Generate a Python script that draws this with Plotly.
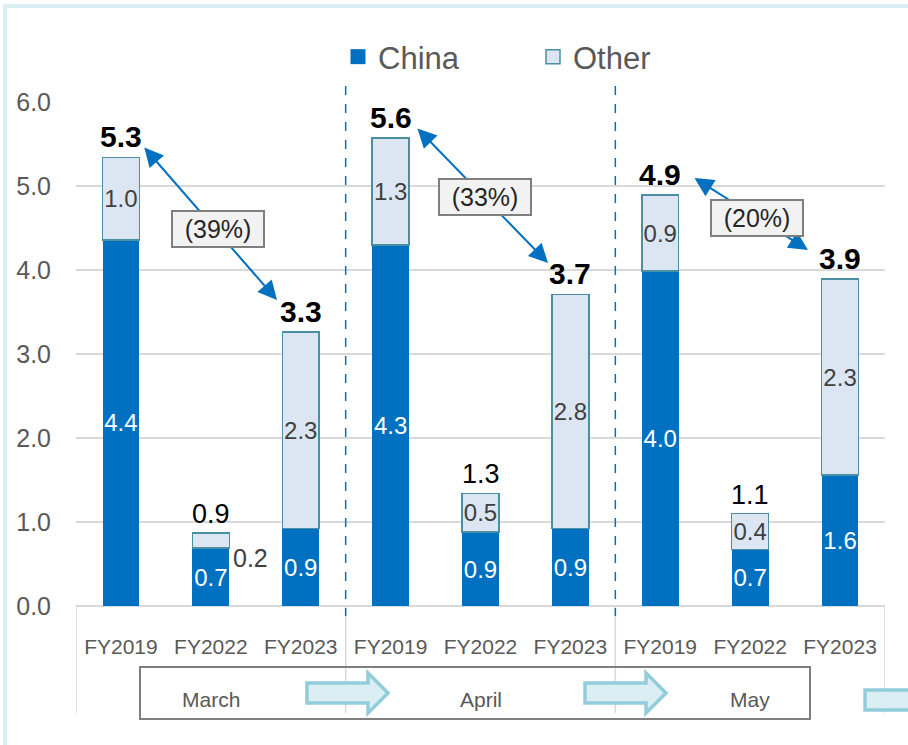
import plotly.graph_objects as go

# ---------------- data ----------------
fiscal_years = ["FY2019", "FY2022", "FY2023"] * 3
months = ["March", "April", "May"]
china = [4.36, 0.69, 0.92, 4.30, 0.88, 0.92, 3.99, 0.67, 1.56]
other = [0.98, 0.18, 2.34, 1.27, 0.46, 2.79, 0.90, 0.43, 2.33]
y_ticks = [0, 1, 2, 3, 4, 5, 6]

totals = [c + o for c, o in zip(china, other)]
xpos = list(range(len(china)))

FONT = "Liberation Sans"
BLUE = "#0070C0"
LIGHT = "#DCE6F2"
EDGE = "#4A8FA3"
GRAY = "#595959"

# pixel -> paper helpers (plot area: x 76..885, y 102..606)
L, R, T, B = 76, 885, 102, 606
def px(p):
    return (p - L) / (R - L)
def py(p):
    return (B - p) / (B - T)
def dx(p):  # pixel x -> data x
    return (p - L) / ((R - L) / 9) - 0.5
def dy(p):  # pixel y -> data y
    return (B - p) / ((B - T) / 6)

china_text = [f"{v:.1f}" for v in china]
other_text = [f"{v:.1f}" if v >= 0.3 else "" for v in other]

fig = go.Figure()
fig.add_trace(go.Bar(
    x=xpos, y=china, name="China", marker=dict(color=BLUE, line=dict(width=0)),
    width=0.41, text=china_text, textposition="inside", insidetextanchor="middle",
    textangle=0, constraintext="none", showlegend=False,
    textfont=dict(family=FONT, size=24, color="white"), hoverinfo="skip"))
fig.add_trace(go.Bar(
    x=xpos, y=other, name="Other", marker=dict(color=LIGHT, line=dict(color=EDGE, width=1.5)),
    width=0.41, text=other_text, textposition="inside", insidetextanchor="middle",
    textangle=0, constraintext="none", showlegend=False,
    textfont=dict(family=FONT, size=24, color="#404040"), hoverinfo="skip"))
# legend entries with larger square swatches
fig.add_trace(go.Scatter(x=[None], y=[None], mode="markers", name="China",
                         marker=dict(symbol="square", size=15, color=BLUE, line=dict(width=0))))
fig.add_trace(go.Scatter(x=[None], y=[None], mode="markers", name="Other",
                         marker=dict(symbol="square", size=14, color=LIGHT,
                                     line=dict(color=EDGE, width=1.5))))

annotations = []
# total labels
for i, t in enumerate(totals):
    bold = fiscal_years[i] != "FY2022"
    txt = f"<b>{t:.1f}</b>" if bold else f"{t:.1f}"
    annotations.append(dict(x=i, y=t, xref="x", yref="y", text=txt, showarrow=False,
                            yanchor="bottom", yshift=2,
                            font=dict(family=FONT, size=30 if bold else 27, color="black")))
# small outside label for tiny segment
for i, o in enumerate(other):
    if o < 0.3:
        annotations.append(dict(x=i + 0.44, y=china[i] - 0.12, xref="x", yref="y",
                                text=f"{o:.1f}", showarrow=False,
                                font=dict(family=FONT, size=25, color="#404040")))

# change arrows and boxes (FY2019 -> FY2023 per month)
arrow_geo = [
    ((143, 146), (277, 300), (218, 229)),
    ((416, 127), (548, 263), (485, 197)),
    ((693, 177), (808, 250), (757, 218)),
]
for m, (s, e, c) in enumerate(arrow_geo):
    i0, i1 = 3 * m, 3 * m + 2
    pct = round((totals[i1] / totals[i0] - 1) * 100)
    annotations.append(dict(x=dx(e[0]), y=dy(e[1]), ax=dx(s[0]), ay=dy(s[1]),
                            xref="x", yref="y", axref="x", ayref="y", text="",
                            showarrow=True, arrowhead=2, startarrowhead=2,
                            arrowside="end+start", arrowsize=1.9, startarrowsize=1.9,
                            arrowwidth=2, arrowcolor=BLUE, standoff=0, startstandoff=0))
    annotations.append(dict(x=dx(c[0]), y=dy(c[1]), xref="x", yref="y",
                            text=f"({abs(pct)}%)", showarrow=False,
                            bgcolor="#F2F2F2", bordercolor="#7F7F7F", borderwidth=2,
                            width=88, height=32, borderpad=1,
                            font=dict(family=FONT, size=25, color="#262626")))

# month labels
for m, name in enumerate(months):
    annotations.append(dict(x=3 * m + 1, y=py(699), xref="x", yref="paper", text=name,
                            yanchor="middle", xanchor="center",
                            showarrow=False, font=dict(family=FONT, size=21, color=GRAY)))

shapes = []
# outer light-blue frame
shapes.append(dict(type="rect", xref="paper", yref="paper", x0=px(5), x1=px(960),
                   y0=py(6), y1=py(800), line=dict(color="#DAEEF3", width=4),
                   fillcolor="rgba(0,0,0,0)", layer="below"))
# multi-level category separators
for xs in [-0.5, 2.5, 5.5, 8.5]:
    shapes.append(dict(type="line", xref="x", yref="paper", x0=xs, x1=xs, y0=0, y1=py(713),
                       line=dict(color="#D9D9D9", width=1.5)))
# dashed blue month separators
for xs in [2.5, 5.5]:
    shapes.append(dict(type="line", xref="x", yref="paper", x0=xs, x1=xs, y0=py(86), y1=py(616),
                       line=dict(color=BLUE, width=1.5, dash="dash")))
# month box
shapes.append(dict(type="rect", xref="paper", yref="paper", x0=px(140), x1=px(810),
                   y0=py(667), y1=py(719), line=dict(color="#7F7F7F", width=2),
                   fillcolor="rgba(0,0,0,0)"))
# block arrows
def block_arrow(x0, yc):
    body_h, head_h = 10, 20
    xs = [x0, x0 + 61, x0 + 61, x0 + 81, x0 + 61, x0 + 61, x0]
    ys = [yc - body_h, yc - body_h, yc - head_h, yc, yc + head_h, yc + body_h, yc + body_h]
    path = "M " + " L ".join(f"{px(a):.5f},{py(b):.5f}" for a, b in zip(xs, ys)) + " Z"
    return dict(type="path", xref="paper", yref="paper", path=path,
                fillcolor="#DAEEF3", line=dict(color="#92CDDC", width=3.5))
for x0, yc in [(307, 693), (585, 693), (865, 700)]:
    shapes.append(block_arrow(x0, yc))

fig.update_layout(
    width=908, height=745,
    margin=dict(l=L, r=908 - R, t=T, b=745 - B, pad=0),
    paper_bgcolor="white", plot_bgcolor="white",
    barmode="stack", bargap=0.59,
    font=dict(family=FONT, color=GRAY),
    showlegend=True,
    legend=dict(orientation="h", x=px(338), y=py(57), xanchor="left", yanchor="middle",
                font=dict(family=FONT, size=31, color=GRAY),
                entrywidth=150, entrywidthmode="pixels", traceorder="normal",
                bgcolor="rgba(0,0,0,0)"),
    xaxis=dict(range=[-0.5, 8.5], tickmode="array", tickvals=xpos, ticktext=fiscal_years,
               showgrid=False, zeroline=False, showline=False, ticks="",
               ticklabelstandoff=26,
               tickfont=dict(family=FONT, size=21, color=GRAY), fixedrange=True),
    yaxis=dict(range=[0, 6], tickmode="array", tickvals=y_ticks,
               ticktext=[f"{v:.1f}" for v in y_ticks],
               showgrid=True, gridcolor="#D9D9D9", gridwidth=1.5,
               zeroline=True, zerolinecolor="#D9D9D9", zerolinewidth=1.5,
               showline=False, ticks="", ticklabelstandoff=24,
               tickfont=dict(family=FONT, size=25, color=GRAY), fixedrange=True),
    annotations=annotations, shapes=shapes,
)

fig.write_html("out.html", config={"displayModeBar": False},
               post_script="document.body.style.margin='0';")
